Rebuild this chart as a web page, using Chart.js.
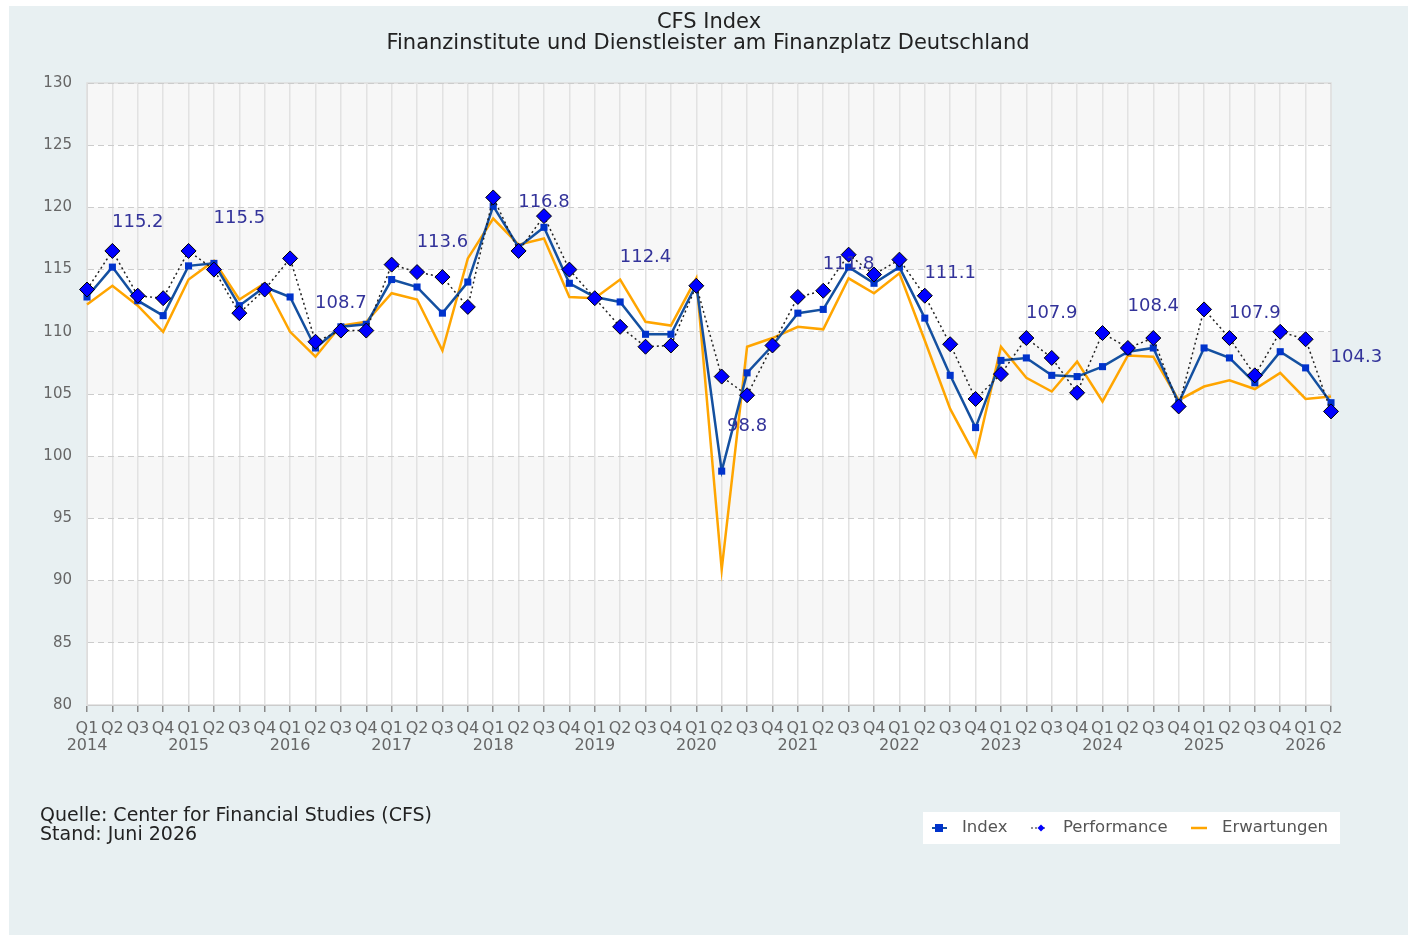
<!doctype html>
<html>
<head>
<meta charset="UTF-8">
<title>CFS Index</title>
<script src="https://cdn.jsdelivr.net/npm/chart.js@4/dist/chart.umd.min.js"></script>
<style>
	body { margin: 0; background: #fff; }
	#holder { position: relative; width: 1412px; height: 935px; }
</style>
</head>
<body>
<div id="holder">
	<canvas id="chart-area"></canvas>
</div>
<script>
	// Jahre und Quartale der Achse
	var years = [2014, 2015, 2016, 2017, 2018, 2019, 2020, 2021, 2022, 2023, 2024, 2025, 2026];
	var quarters = ['Q1', 'Q2', 'Q3', 'Q4'];
	var lastQuarter = 2; // 2026 nur bis Q2

	var indexValues = [
		112.8, 115.2, 112.5, 111.3,
		115.3, 115.5, 112.1, 113.6,
		112.8, 108.7, 110.4, 110.6,
		114.2, 113.6, 111.5, 114.0,
		120.1, 116.8, 118.4, 113.9,
		112.8, 112.4, 109.8, 109.8,
		113.8, 98.8, 106.7, 108.9,
		111.5, 111.8, 115.2, 113.9,
		115.2, 111.1, 106.5, 102.3,
		107.7, 107.9, 106.5, 106.4,
		107.2, 108.4, 108.7, 104.3,
		108.7, 107.9, 105.9, 108.4,
		107.1, 104.3
	];
	var performanceValues = [
		113.4, 116.5, 112.9, 112.7,
		116.5, 115.0, 111.5, 113.4,
		115.9, 109.2, 110.1, 110.1,
		115.4, 114.8, 114.4, 112.0,
		120.8, 116.5, 119.3, 115.0,
		112.7, 110.4, 108.8, 108.9,
		113.7, 106.4, 104.9, 108.9,
		112.8, 113.3, 116.2, 114.6,
		115.8, 112.9, 109.0, 104.6,
		106.6, 109.5, 107.9, 105.1,
		109.9, 108.7, 109.5, 104.0,
		111.8, 109.5, 106.5, 110.0,
		109.4, 103.6
	];
	var expectationValues = [
		112.2, 113.7, 112.1, 110.0,
		114.2, 115.7, 112.6, 113.9,
		110.0, 108.0, 110.5, 110.8,
		113.1, 112.6, 108.5, 115.9,
		119.1, 117.0, 117.5, 112.8,
		112.7, 114.2, 110.8, 110.5,
		114.3, 90.9, 108.8, 109.5,
		110.4, 110.2, 114.3, 113.1,
		114.7, 109.3, 103.8, 100.0,
		108.8, 106.3, 105.2, 107.6,
		104.4, 108.1, 108.0, 104.5,
		105.6, 106.1, 105.4, 106.7,
		104.6, 104.8
	];

	var labels = [];
	years.forEach(function (y, yi) {
		var n = (yi == years.length - 1) ? lastQuarter : 4;
		for (var q = 0; q < n; q++) {
			labels.push(q == 0 ? [quarters[q], String(y)] : [quarters[q], '']);
		}
	});

	var FONT = "'DejaVu Sans', sans-serif";

	// Hintergrund, Baender, Titel, Jahreswerte, Legende
	var decoPlugin = {
		id: 'deco',
		beforeDraw: function (chart) {
			var ctx = chart.ctx, a = chart.chartArea, ys = chart.scales.y;
			ctx.save();
			ctx.fillStyle = '#ffffff';
			ctx.fillRect(0, 0, chart.width, chart.height);
			ctx.fillStyle = '#e8f0f2';
			ctx.fillRect(9, 6, 1399, chart.height - 6);
			ctx.fillStyle = '#ffffff';
			ctx.fillRect(a.left, a.top, a.right - a.left, a.bottom - a.top);
			// abwechselnde Baender
			ctx.fillStyle = '#f7f7f7';
			for (var v = 130; v > 80; v -= 10) {
				var t = ys.getPixelForValue(v), b = ys.getPixelForValue(v - 5);
				ctx.fillRect(a.left, t, a.right - a.left, b - t);
			}
			ctx.strokeStyle = '#dddddd';
			ctx.lineWidth = 1.5;
			ctx.strokeRect(a.left, a.top, a.right - a.left, a.bottom - a.top);
			ctx.restore();
		},
		afterDatasetsDraw: function (chart) {
			var ctx = chart.ctx, xs = chart.scales.x, ys = chart.scales.y;
			ctx.save();
			ctx.font = '18px ' + FONT;
			ctx.fillStyle = '#33339a';
			ctx.textAlign = 'center';
			ctx.textBaseline = 'middle';
			for (var i = 1; i < indexValues.length; i += 4) {
				ctx.fillText(indexValues[i].toFixed(1), xs.getPixelForValue(i + 1), ys.getPixelForValue(indexValues[i]) - 45);
			}
			ctx.restore();
		},
		afterDraw: function (chart) {
			var ctx = chart.ctx;
			var ds = chart.data.datasets;
			ctx.save();
			ctx.fillStyle = '#222';
			ctx.textAlign = 'center';
			ctx.textBaseline = 'middle';
			ctx.font = '21px ' + FONT;
			ctx.fillText('CFS Index', 709, 23);
			ctx.fillText('Finanzinstitute und Dienstleister am Finanzplatz Deutschland', 708, 44);

			ctx.textAlign = 'left';
			ctx.font = '19px ' + FONT;
			ctx.fillText('Quelle: Center for Financial Studies (CFS)', 40, 816);
			ctx.fillText('Stand: Juni 2026', 40, 835);

			// Legende
			ctx.fillStyle = '#ffffff';
			ctx.fillRect(923, 812, 417, 32);
			var ly = 828;
			ctx.strokeStyle = ds[0].borderColor;
			ctx.lineWidth = 2;
			ctx.beginPath(); ctx.moveTo(932, ly); ctx.lineTo(947, ly); ctx.stroke();
			ctx.fillStyle = ds[0].pointBackgroundColor;
			ctx.fillRect(935, ly - 4, 8, 8);

			ctx.strokeStyle = '#222';
			ctx.lineWidth = 1.2;
			ctx.setLineDash([2, 2]);
			ctx.beginPath(); ctx.moveTo(1031, ly); ctx.lineTo(1046, ly); ctx.stroke();
			ctx.setLineDash([]);
			ctx.fillStyle = ds[1].pointBackgroundColor;
			ctx.beginPath();
			ctx.moveTo(1041, ly - 3.5); ctx.lineTo(1044.5, ly); ctx.lineTo(1041, ly + 3.5); ctx.lineTo(1037.5, ly);
			ctx.closePath(); ctx.fill();

			ctx.strokeStyle = ds[2].borderColor;
			ctx.lineWidth = 2.5;
			ctx.beginPath(); ctx.moveTo(1191, ly); ctx.lineTo(1207, ly); ctx.stroke();

			ctx.fillStyle = '#555';
			ctx.font = '16.5px ' + FONT;
			ctx.fillText('Index', 962, ly);
			ctx.fillText('Performance', 1063, ly);
			ctx.fillText('Erwartungen', 1222, ly);
			ctx.restore();
		}
	};

	var config = {
		type: 'line',
		data: {
			labels: labels,
			datasets: [
				{
					label: 'Index',
					data: indexValues,
					borderColor: '#1450a0',
					borderWidth: 2.5,
					pointStyle: 'rect',
					pointRadius: 5,
					pointBackgroundColor: '#0033cc',
					pointBorderColor: '#0033cc',
					pointBorderWidth: 0,
					tension: 0,
					order: 2
				},
				{
					label: 'Performance',
					data: performanceValues,
					borderColor: '#222222',
					borderWidth: 1.5,
					borderDash: [2, 3],
					pointStyle: 'rectRot',
					pointRadius: 7.5,
					pointBackgroundColor: '#0000ff',
					pointBorderColor: '#000000',
					pointBorderWidth: 1,
					tension: 0,
					order: 1
				},
				{
					label: 'Erwartungen',
					data: expectationValues,
					borderColor: '#ffa500',
					borderWidth: 2.5,
					pointRadius: 0,
					tension: 0,
					order: 3
				}
			]
		},
		options: {
			responsive: true,
			maintainAspectRatio: false,
			animation: false,
			layout: {
				padding: { left: 0, top: 83, right: 81, bottom: 180 }
			},
			plugins: {
				legend: { display: false },
				title: { display: false },
				tooltip: { enabled: false }
			},
			scales: {
				x: {
					offset: false,
					grid: {
						color: '#e2e2e2',
						lineWidth: 1.5,
						tickColor: '#888',
						tickLength: 7,
						drawTicks: true
					},
					border: { color: '#cccccc' },
					ticks: {
						autoSkip: false,
						maxRotation: 0,
						minRotation: 0,
						padding: 8,
						color: '#666',
						font: { family: FONT, size: 16, lineHeight: 1.08 }
					},
					afterFit: function (scale) { scale.height = 50; }
				},
				y: {
					min: 80,
					max: 130,
					grid: {
						color: '#cccccc',
						lineWidth: 1,
						drawTicks: false,
						tickLength: 0
					},
					border: { color: '#dddddd', dash: [6, 4] },
					ticks: {
						stepSize: 5,
						padding: 15,
						color: '#666',
						font: { family: FONT, size: 15 }
					},
					afterFit: function (scale) { scale.width = 87; }
				}
			}
		},
		plugins: [decoPlugin]
	};

	window.onload = function () {
		var ctx = document.getElementById('chart-area').getContext('2d');
		window.cfsChart = new Chart(ctx, config);
	};
</script>
</body>
</html>
